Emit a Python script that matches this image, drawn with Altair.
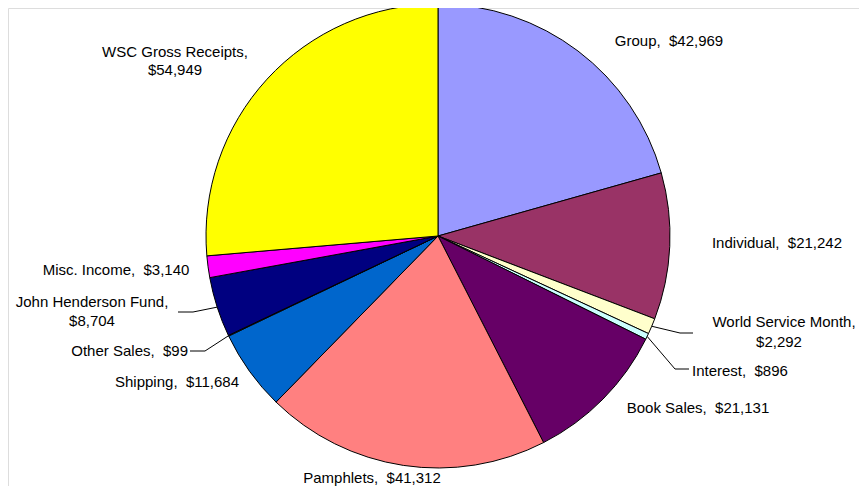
import math
import altair as alt
import pandas as pd

# ---- data ----
categories = ["Group", "Individual", "World Service Month", "Interest", "Book Sales",
              "Pamphlets", "Shipping", "Other Sales", "John Henderson Fund",
              "Misc. Income", "WSC Gross Receipts"]
amounts = [42969, 21242, 2292, 896, 21131, 41312, 11684, 99, 8704, 3140, 54949]
colors = ["#9999FF", "#993366", "#FFFFCC", "#CCFFFF", "#660066", "#FF8080",
          "#0066CC", "#CCCCFF", "#000080", "#FF00FF", "#FFFF00"]

# ---- layout ----
W, H, M = 851, 478, 8
CX, CY, R = 438 - M, 236 - M, 232
FONT, FS = "Liberation Sans", 15

# label placement (page pixels): category, part, x, y, align
label_layout = [
    ("Group", "full", 669, 41, "center"),
    ("Individual", "full", 777, 243, "center"),
    ("World Service Month", "name", 784, 322, "center"),
    ("World Service Month", "value", 779, 342, "center"),
    ("Interest", "full", 692, 371, "left"),
    ("Book Sales", "full", 698, 408, "center"),
    ("Pamphlets", "full", 372, 478, "center"),
    ("Shipping", "full", 177, 382, "center"),
    ("Other Sales", "full", 188, 351, "right"),
    ("John Henderson Fund", "name", 92, 302, "center"),
    ("John Henderson Fund", "value", 92, 321, "center"),
    ("Misc. Income", "full", 116, 270, "center"),
    ("WSC Gross Receipts", "name", 175, 52, "center"),
    ("WSC Gross Receipts", "value", 175, 70, "center"),
]
# leader line bends and ends (page pixels)
leader_layout = {
    "World Service Month": [(680, 333), (693, 333)],
    "Interest": [(675, 369), (689, 369)],
    "John Henderson Fund": [(193, 312), (178, 312)],
    "Other Sales": [(205, 351), (190, 351)],
}

df = pd.DataFrame({"category": categories, "amount": amounts,
                   "order": list(range(len(categories)))})

pie = alt.Chart(df).mark_arc(stroke="black", strokeWidth=1, radius=R).encode(
    theta=alt.Theta("amount:Q", stack=True),
    color=alt.Color("category:N", scale=alt.Scale(domain=categories, range=colors), legend=None),
    order=alt.Order("order:Q"),
    x=alt.value(CX), y=alt.value(CY),
)

amt = dict(zip(categories, amounts))


def text_for(cat, part):
    val = "$" + format(amt[cat], ",")
    if part == "name":
        return cat + ","
    if part == "value":
        return val
    return cat + ",\u00a0 " + val


lab_rows = [{"text": text_for(c, p), "px": x - M, "py": y - M, "align": a}
            for c, p, x, y, a in label_layout]
lab_df = pd.DataFrame(lab_rows)

text_layers = []
for a in ["center", "left", "right"]:
    sub = lab_df[lab_df["align"] == a]
    if len(sub) == 0:
        continue
    text_layers.append(
        alt.Chart(sub).mark_text(align=a, baseline="middle", font=FONT, fontSize=FS, color="black").encode(
            x=alt.X("px:Q", scale=None, axis=None),
            y=alt.Y("py:Q", scale=None, axis=None),
            text="text:N",
        )
    )

# leader lines start at slice mid-angle on the pie edge
total = sum(amounts)
cum = 0.0
mid = {}
for c, v in zip(categories, amounts):
    mid[c] = (cum + v / 2) / total * 2 * math.pi
    cum += v

lead_rows = []
for c, pts in leader_layout.items():
    ang = mid[c]
    sx, sy = CX + R * math.sin(ang), CY - R * math.cos(ang)
    lead_rows.append({"cat": c, "seq": 0, "px": sx, "py": sy})
    for i, (x, y) in enumerate(pts):
        lead_rows.append({"cat": c, "seq": i + 1, "px": x - M, "py": y - M})
lead_df = pd.DataFrame(lead_rows)

leaders = alt.Chart(lead_df).mark_line(color="black", strokeWidth=1).encode(
    x=alt.X("px:Q", scale=None, axis=None),
    y=alt.Y("py:Q", scale=None, axis=None),
    detail="cat:N",
    order="seq:Q",
)

chart = alt.layer(pie, leaders, *text_layers).properties(
    width=W, height=H, autosize="none", padding=0,
).configure_view(strokeWidth=0, stroke="transparent").configure_axis(
    domain=False, ticks=False, labels=False, grid=False
).configure(background="white")

chart.save("out.html", embed_options={"renderer": "svg", "actions": False})
